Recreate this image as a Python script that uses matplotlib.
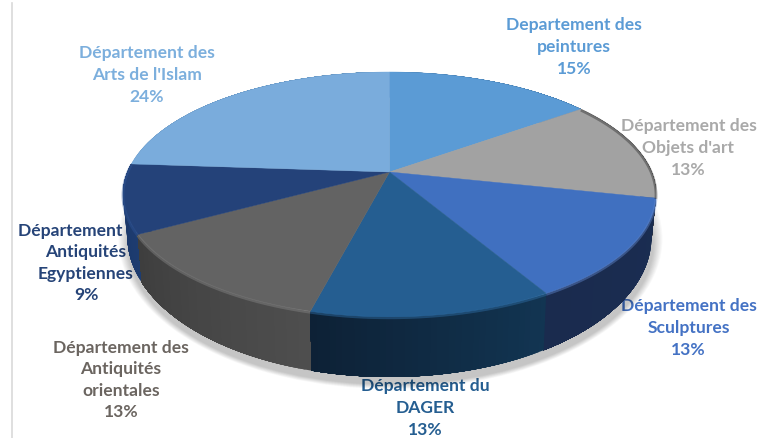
import matplotlib
matplotlib.use("Agg")
import matplotlib.pyplot as plt
import numpy as np
from matplotlib.patches import Ellipse

# slice shares (clockwise from the top), printed labels next to them
names = ["Departement des\npeintures", "Département des\nObjets d'art",
         "Département des\nSculptures", "Département du\nDAGER",
         "Département des\nAntiquités\norientales", "Département des\nAntiquités\nEgyptiennes",
         "Département des\nArts de l'Islam"]
shares = [15, 13.4, 13.2, 12.4, 13.0, 9.1, 23.9]
percents = ["15%", "13%", "13%", "13%", "13%", "9%", "24%"]

top_colors = ["#5b9bd5", "#a2a2a2", "#4070c0", "#255e91", "#636363", "#244279", "#7aacdc"]
rim_colors = ["#3a6f9f", "#4a4a4a", "#1a2d52", "#123552", "#4e4e4e", "#1d3c70", "#5a8ab8"]
rim_dark = ["#3a6f9f", "#3a3a3a", "#1a2b4e", "#0d2136", "#3e3e3e", "#1a3566", "#5a8ab8"]
bevel_colors = [None, "#333333", "#5f86cc", "#2f6ea6", "#858585", "#2f5596", None]
text_colors = ["#5b9bd5", "#a9a9a9", "#4472c4", "#255e91", "#6b6560", "#264478", "#7cafdd"]
label_x = [574, 688.5, 688.5, 425, 121, 86, 147]
label_y = [47, 148, 328, 408, 380, 263, 75]

fig = plt.figure(figsize=(7.57, 4.39), dpi=100)
ax = fig.add_axes([0, 0, 1, 1])
ax.set_xlim(0, 757)
ax.set_ylim(439, 0)
ax.axis("off")

# pixel geometry of the tilted disc
cx, persp = 389.5, 0.183
top_geo = (173, 262, 118.3)
bot_geo = (212.4, 257.6, 135.3)


def project(t, geo):
    cy, rx, ry = geo
    u, v = np.sin(t), -np.cos(t)
    s = 1 / (1 - persp * v)
    return cx + rx * u * s, cy + ry * v * s


# left axis line
ax.plot([11.5, 11.5], [4, 439], color="#d9d9d9", lw=1.2, zorder=1)

# labels sit behind the pie
for name, pct, col, lx, ly in zip(names, percents, text_colors, label_x, label_y):
    ax.text(lx, ly, name + "\n" + pct, color=col, ha="center", va="center",
            family="Lato", weight="bold", fontsize=12.6, linespacing=1.43, zorder=2)

# soft shadow under the pie
for i in range(10):
    ax.add_patch(Ellipse((cx + 1, 240 + 0.5 * i), 2 * (262 + 10 - i), 2 * (140 + 10 - i),
                         color="#000000", alpha=0.022, lw=0, zorder=3))

edges = np.deg2rad(np.cumsum([0] + shares) / sum(shares) * 360)

# rim, back to front
order = sorted(range(len(shares)), key=lambda k: -np.cos((edges[k] + edges[k + 1]) / 2))
for k in order:
    ts = np.linspace(edges[k], edges[k + 1], 40)
    c0 = np.array(matplotlib.colors.to_rgb(rim_colors[k]))
    c1 = np.array(matplotlib.colors.to_rgb(rim_dark[k]))
    for i in range(len(ts) - 1):
        # each strip runs to the wedge end, the next one paints over it, so no seams show
        xa, ya = project(ts[i:], top_geo)
        xb, yb = project(ts[i:], bot_geo)
        col = c0 + (c1 - c0) * i / (len(ts) - 2)
        ax.fill(np.r_[xa, xb[::-1]], np.r_[ya, yb[::-1]], color=col, lw=0, zorder=4)

# top faces
for k in range(len(shares)):
    ts = np.linspace(edges[k], edges[k + 1], 120)
    x, y = project(ts, top_geo)
    ax.fill(np.r_[cx, x], np.r_[top_geo[0], y], color=top_colors[k], lw=0.3, zorder=5)

# bevel along the front edge
for k in range(len(shares)):
    if bevel_colors[k] is None:
        continue
    ts = np.linspace(edges[k], edges[k + 1], 120)
    ts = ts[-np.cos(ts) > -0.6]
    x, y = project(ts, top_geo)
    ax.plot(x, y + 1, color=bevel_colors[k], lw=2.0, alpha=0.45, zorder=6,
            solid_capstyle="butt")

fig.savefig("out.png", dpi=100)
